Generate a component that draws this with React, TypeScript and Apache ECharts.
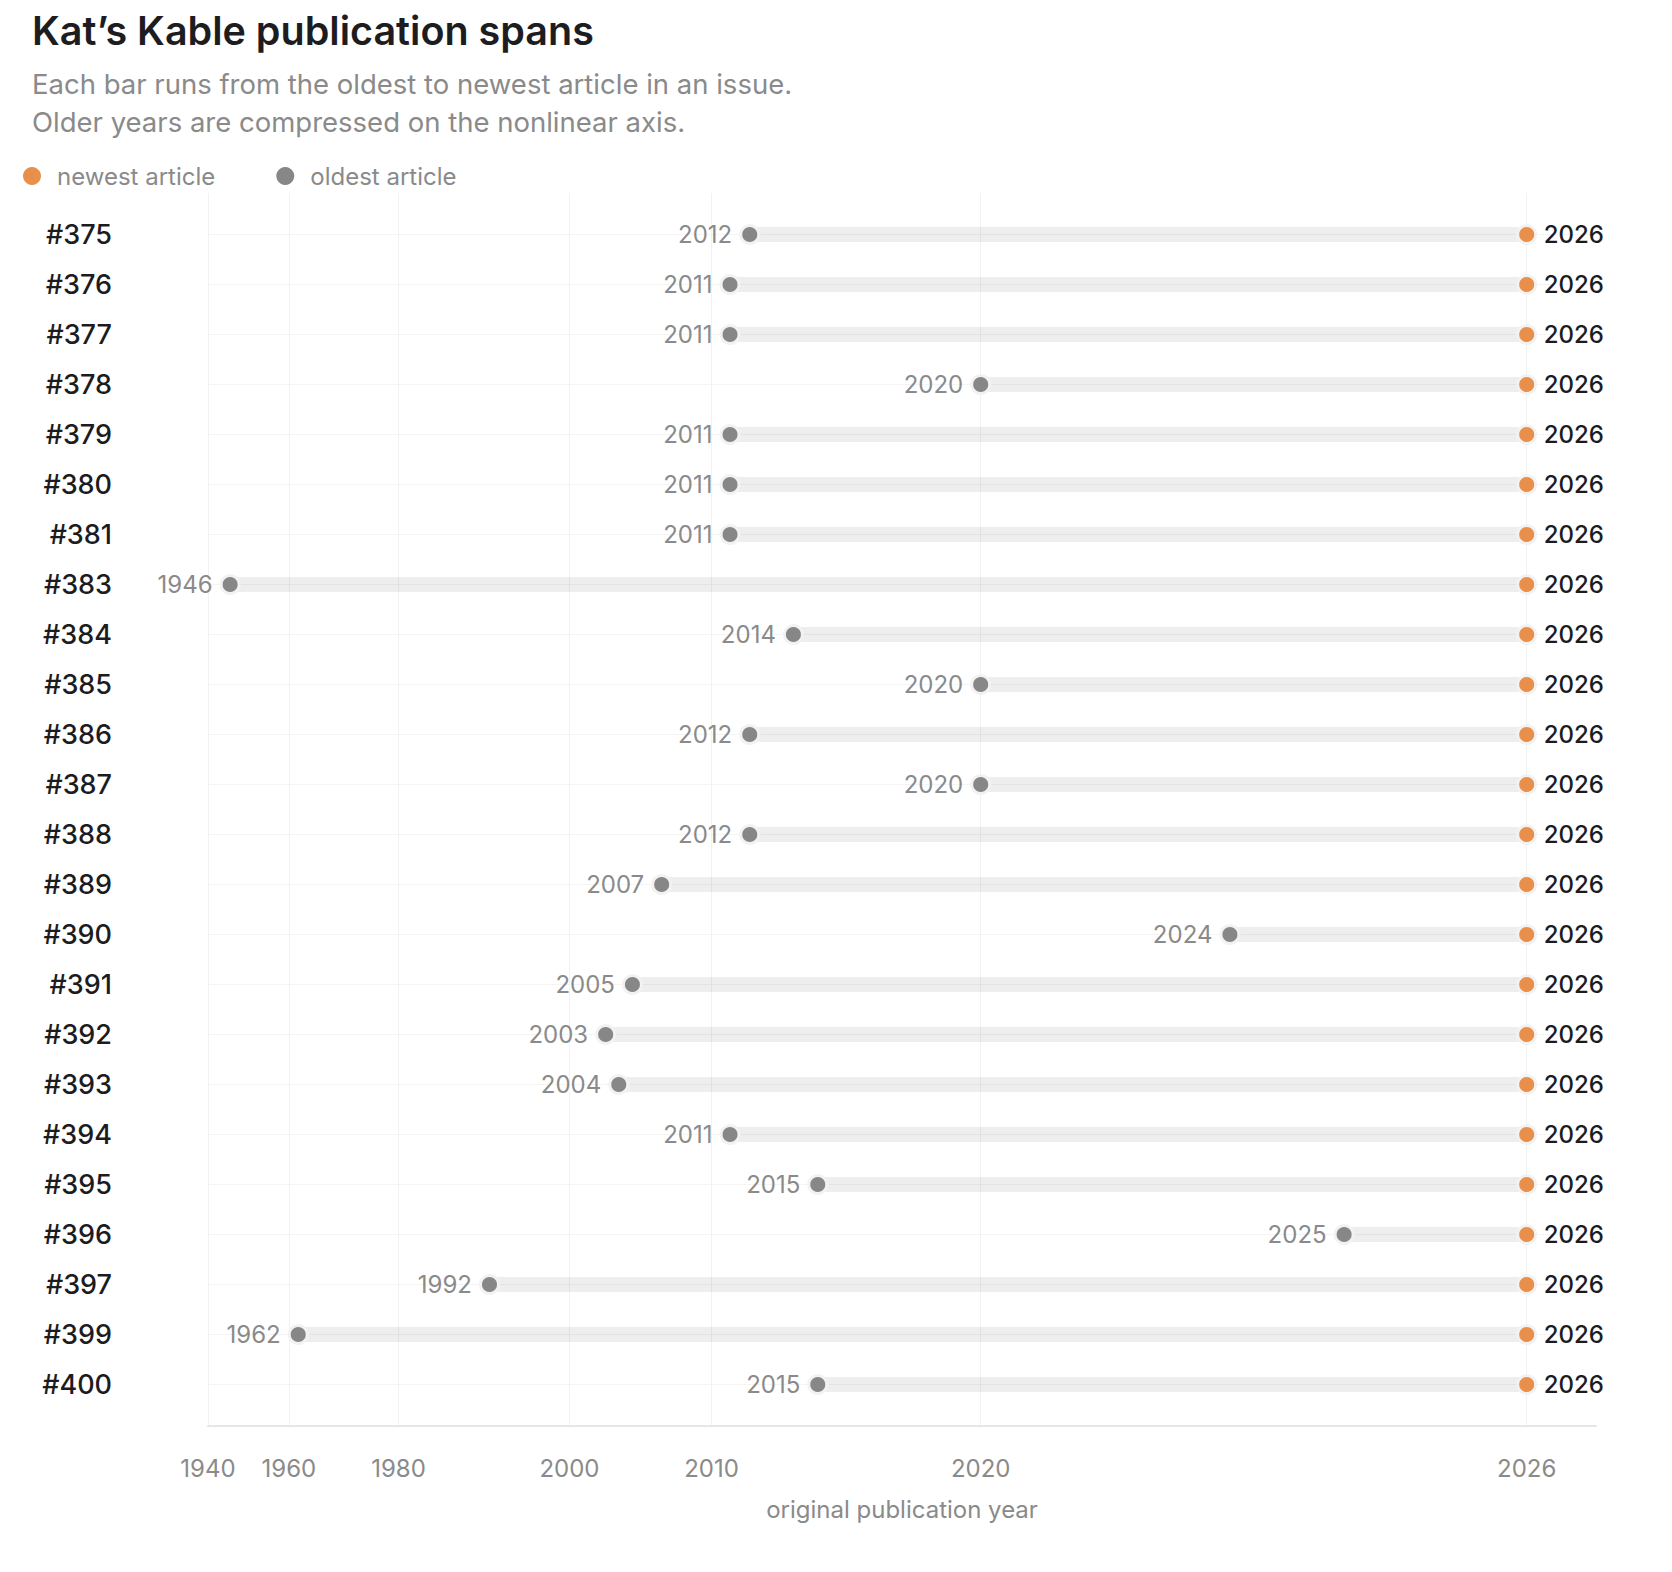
import React, { useEffect, useRef } from "react";
import * as echarts from "echarts";

// ---- data ----
const issues = [
  "#375", "#376", "#377", "#378", "#379", "#380", "#381", "#383", "#384", "#385", "#386", "#387",
  "#388", "#389", "#390", "#391", "#392", "#393", "#394", "#395", "#396", "#397", "#399", "#400",
];
const oldestYear = [
  2012, 2011, 2011, 2020, 2011, 2011, 2011, 1946, 2014, 2020, 2012, 2020,
  2012, 2007, 2024, 2005, 2003, 2004, 2011, 2015, 2025, 1992, 1962, 2015,
];
const newestYear = [
  2026, 2026, 2026, 2026, 2026, 2026, 2026, 2026, 2026, 2026, 2026, 2026,
  2026, 2026, 2026, 2026, 2026, 2026, 2026, 2026, 2026, 2026, 2026, 2026,
];
const tickYears = [1940, 1960, 1980, 2000, 2010, 2020, 2026];
const domainYears = [1940, 2026.25];

// nonlinear (log of years-before-offset) axis
const LOG_OFFSET = 2027.25;
const toAxis = (year: number) => -Math.log(LOG_OFFSET - year);
const fromAxis = (v: number) => LOG_OFFSET - Math.exp(-v);

const FONT = "Inter, 'Noto Sans', sans-serif";
const ORANGE = "#e8904b";
const GREY = "#878787";

export default function App() {
  const ref = useRef<HTMLDivElement>(null);

  useEffect(() => {
    if (!ref.current) return;
    const chart = echarts.init(ref.current, undefined, { renderer: "svg" });

    const rows = issues.map((_, i) => i);
    const barData = rows.map((i) => [toAxis(oldestYear[i]), toAxis(newestYear[i]), i]);
    const oldData = rows.map((i) => [toAxis(oldestYear[i]), i, oldestYear[i]]);
    const newData = rows.map((i) => [toAxis(newestYear[i]), i, newestYear[i]]);
    const tickValues = tickYears.map(toAxis);

    chart.setOption({
      animation: false,
      backgroundColor: "#ffffff",
      textStyle: { fontFamily: FONT },
      title: {
        text: "Kat’s Kable publication spans",
        subtext:
          "Each bar runs from the oldest to newest article in an issue.\nOlder years are compressed on the nonlinear axis.",
        left: 32,
        top: 7,
        padding: 0,
        itemGap: 10,
        textStyle: {
          fontFamily: FONT,
          fontSize: 39.5,
          fontWeight: 600,
          lineHeight: 48,
          color: "#1d1d1f",
        },
        subtextStyle: {
          fontFamily: FONT,
          fontSize: 27.5,
          lineHeight: 38,
          color: "#8a8a8a",
        },
      },
      legend: {
        left: 23,
        top: 164,
        padding: 0,
        icon: "circle",
        itemWidth: 18,
        itemHeight: 18,
        itemGap: 61,
        itemStyle: { borderWidth: 0 },
        data: ["newest article", "oldest article"],
        textStyle: {
          fontFamily: FONT,
          fontSize: 24,
          color: "#8a8a8a",
          padding: [0, 0, 0, 11],
        },
      },
      grid: { left: 208, right: 76, top: 193, bottom: 146, containLabel: false },
      xAxis: {
        type: "value",
        min: toAxis(domainYears[0]),
        max: toAxis(domainYears[1]),
        name: "original publication year",
        nameLocation: "middle",
        nameGap: 71,
        nameTextStyle: { fontFamily: FONT, fontSize: 24, lineHeight: 24, color: "#8a8a8a" },
        axisLine: { show: true, onZero: false, lineStyle: { color: "#e6e6e6", width: 2 } },
        axisTick: { show: false, customValues: tickValues },
        axisLabel: {
          customValues: tickValues,
          formatter: (v: number) => String(Math.round(fromAxis(v))),
          fontFamily: FONT,
          fontSize: 24,
          lineHeight: 24,
          color: "#8a8a8a",
          margin: 30,
        },
        splitLine: { show: true, lineStyle: { color: "#f2f2f2", width: 1 } },
      },
      yAxis: {
        type: "value",
        inverse: true,
        min: -0.83,
        max: issues.length - 1 + 0.83,
        axisLine: { show: false, onZero: false },
        axisTick: { show: false, customValues: rows },
        axisLabel: {
          customValues: rows,
          formatter: (v: number) => issues[Math.round(v)] ?? "",
          fontFamily: FONT,
          fontSize: 27,
          fontWeight: 500,
          color: "#1c1c1e",
          margin: 96,
        },
        splitLine: { show: true, lineStyle: { color: "#f4f4f4", width: 1 } },
      },
      series: [
        {
          type: "custom",
          name: "span",
          data: barData,
          encode: { x: [0, 1], y: 2 },
          silent: true,
          z: 1,
          renderItem: (params: any, api: any) => {
            const start = api.coord([api.value(0), api.value(2)]);
            const end = api.coord([api.value(1), api.value(2)]);
            return {
              type: "rect",
              shape: { x: start[0], y: start[1] - 7.5, width: end[0] - start[0], height: 15 },
              style: { fill: "rgba(0,0,0,0.065)" },
            };
          },
        },
        {
          type: "scatter",
          name: "oldest article",
          data: oldData,
          encode: { x: 0, y: 1 },
          symbol: "circle",
          symbolSize: 18,
          z: 3,
          itemStyle: { color: GREY, borderColor: "#f2f2f2", borderWidth: 3, opacity: 1 },
          label: {
            show: true,
            position: "left",
            distance: 7,
            formatter: (p: any) => String(p.value[2]),
            fontFamily: FONT,
            fontSize: 24,
            color: "#8a8a8a",
          },
          emphasis: { disabled: true },
        },
        {
          type: "scatter",
          name: "newest article",
          data: newData,
          encode: { x: 0, y: 1 },
          symbol: "circle",
          symbolSize: 18,
          z: 4,
          itemStyle: { color: ORANGE, borderColor: "#f2f2f2", borderWidth: 3, opacity: 1 },
          label: {
            show: true,
            position: "right",
            distance: 6.5,
            formatter: (p: any) => String(p.value[2]),
            fontFamily: FONT,
            fontSize: 24,
            fontWeight: 500,
            color: "#1c1c1e",
          },
          emphasis: { disabled: true },
        },
      ],
    });

    return () => chart.dispose();
  }, []);

  return (
    <div
      ref={ref}
      style={{ position: "fixed", left: 0, top: 0, width: 1672, height: 1572, background: "#fff" }}
    />
  );
}
